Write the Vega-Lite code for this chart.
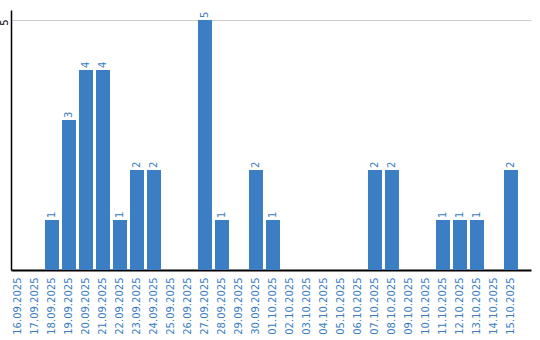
{
  "$schema": "https://vega.github.io/schema/vega-lite/v6.json",
  "width": 520,
  "height": 260,
  "autosize": "none",
  "padding": {"left": 11, "top": 10, "right": 9, "bottom": 70},
  "background": "white",
  "config": {"view": {"stroke": null}, "font": "DejaVu Sans"},
  "data": {"values": [
    {"d": "16.09.2025", "v": 0}, {"d": "17.09.2025", "v": 0}, {"d": "18.09.2025", "v": 1},
    {"d": "19.09.2025", "v": 3}, {"d": "20.09.2025", "v": 4}, {"d": "21.09.2025", "v": 4},
    {"d": "22.09.2025", "v": 1}, {"d": "23.09.2025", "v": 2}, {"d": "24.09.2025", "v": 2},
    {"d": "25.09.2025", "v": 0}, {"d": "26.09.2025", "v": 0}, {"d": "27.09.2025", "v": 5},
    {"d": "28.09.2025", "v": 1}, {"d": "29.09.2025", "v": 0}, {"d": "30.09.2025", "v": 2},
    {"d": "01.10.2025", "v": 1}, {"d": "02.10.2025", "v": 0}, {"d": "03.10.2025", "v": 0},
    {"d": "04.10.2025", "v": 0}, {"d": "05.10.2025", "v": 0}, {"d": "06.10.2025", "v": 0},
    {"d": "07.10.2025", "v": 2}, {"d": "08.10.2025", "v": 2}, {"d": "09.10.2025", "v": 0},
    {"d": "10.10.2025", "v": 0}, {"d": "11.10.2025", "v": 1}, {"d": "12.10.2025", "v": 1},
    {"d": "13.10.2025", "v": 1}, {"d": "14.10.2025", "v": 0}, {"d": "15.10.2025", "v": 2}
  ]},
  "encoding": {
    "x": {"field": "d", "type": "ordinal", "sort": null,
      "scale": {"paddingInner": 0.176, "paddingOuter": 0.383, "align": 0},
      "axis": {"title": null, "labelAngle": -90, "labelColor": "#3a7dc4", "labelFontSize": 10,
        "ticks": false, "domainColor": "black", "domainWidth": 2, "labelPadding": 7}},
    "y": {"field": "v", "type": "quantitative",
      "scale": {"domain": [0, 5.2], "nice": false},
      "axis": {"title": null, "values": [5], "labelAngle": -90, "labelAlign": "center", "labelBaseline": "bottom",
        "labelColor": "black", "labelFontSize": 10, "ticks": false, "domainColor": "black", "domainWidth": 1.5,
        "grid": true, "gridColor": "#cccccc", "gridWidth": 1, "labelPadding": 2, "labelOffset": 2}}
  },
  "layer": [
    {"mark": {"type": "bar", "color": "#3b7ec4"}},
    {"transform": [{"filter": "datum.v > 0"}],
     "mark": {"type": "text", "angle": 270, "align": "left", "baseline": "middle", "dx": 2, "color": "#3a7dc4", "fontSize": 10},
     "encoding": {"text": {"field": "v"}}}
  ]
}
